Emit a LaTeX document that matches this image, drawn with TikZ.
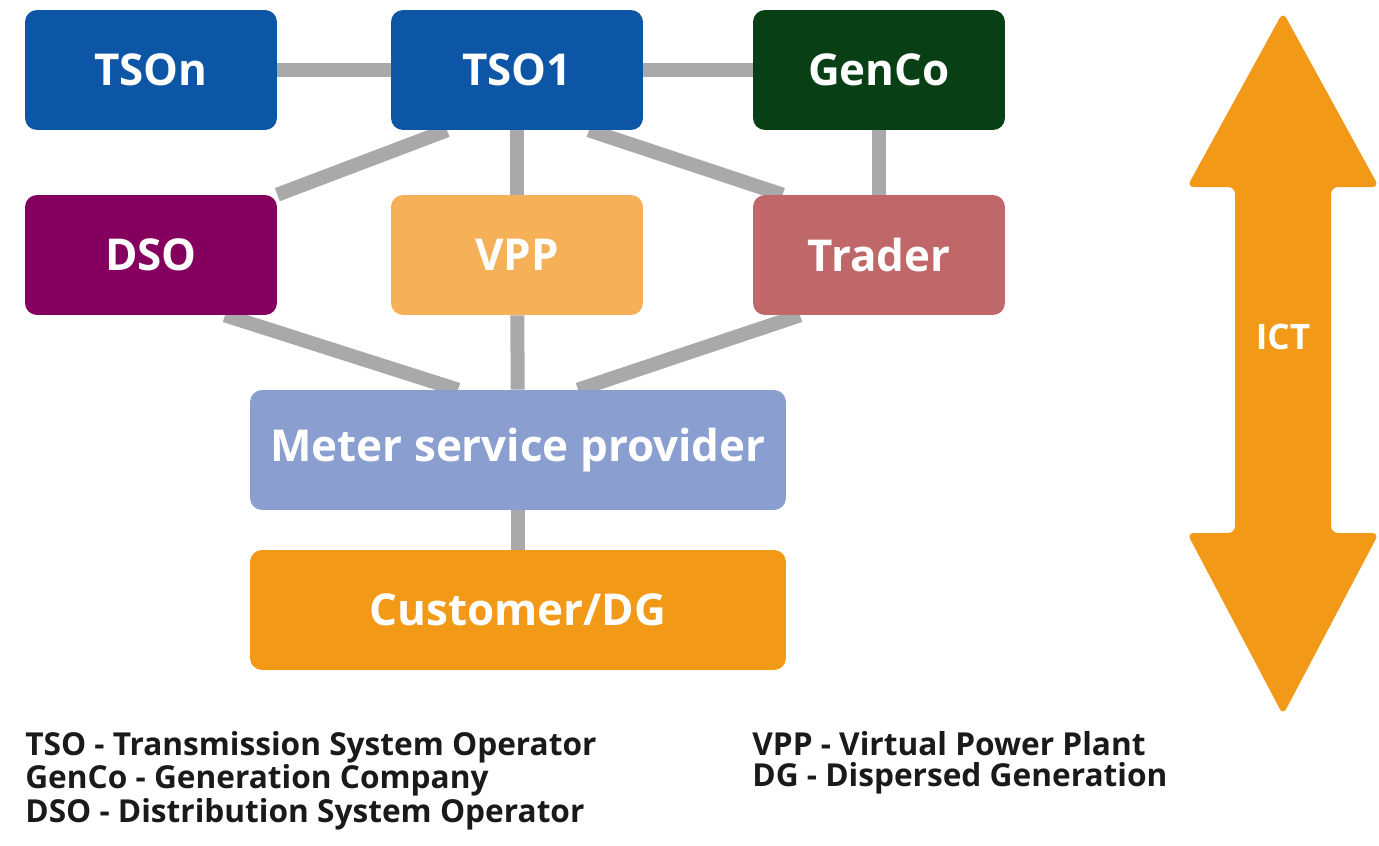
\documentclass[tikz,border=0pt]{standalone}
\usepackage{fontspec}
\setmainfont{Open Sans}
\usepackage{xcolor}
\usetikzlibrary{backgrounds}
\definecolor{tsoblue}{HTML}{0D55A5}
\definecolor{gencogreen}{HTML}{083F15}
\definecolor{dsopurple}{HTML}{85005E}
\definecolor{vpporange}{HTML}{F5B058}
\definecolor{traderred}{HTML}{C0676A}
\definecolor{meterblue}{HTML}{8A9FD0}
\definecolor{ictorange}{HTML}{F29A17}
\definecolor{linkgray}{HTML}{A9A9A9}
\definecolor{legendtext}{HTML}{1A1A1A}
\tikzset{
  role box/.style={rectangle,rounded corners=0.24cm,minimum width=5.04cm,minimum height=2.4cm,text=white,font=\fontsize{25}{28}\selectfont\bfseries},
  wide box/.style={role box,minimum width=10.72cm},
  link/.style={draw=linkgray,line width=0.28cm},
  legend/.style={anchor=north west,inner sep=0pt,align=left,text=legendtext,font=\fontsize{18}{17.6}\selectfont\bfseries}
}

\begin{document}
\begin{tikzpicture}[x=0.02cm,y=-0.02cm]
  \useasboundingbox (0,0) rectangle (1379,845);
  % market roles
  \node [role box,fill=tsoblue] (tson) at (151,70) {TSOn};
  \node [role box,fill=tsoblue] (tso1) at (517,70) {TSO1};
  \node [role box,fill=gencogreen] (genco) at (879,70) {GenCo};
  \node [role box,fill=dsopurple] (dso) at (151,255) {DSO};
  \node [role box,fill=vpporange] (vpp) at (517,255) {VPP};
  \node [role box,fill=traderred] (trader) at (879,255) {Trader};
  \node [wide box,fill=meterblue] (meter) at (518,450) {Meter service provider};
  \node [wide box,fill=ictorange] (customer) at (518,610) {Customer/DG};
  \begin{scope}[on background layer]
    \fill[white] (0,0) rectangle (1379,845);
    \draw[link] (tson) -- (tso1);
    \draw[link] (tso1) -- (genco);
    \draw[link] ([xshift=-1.4cm]tso1.south) -- (dso.north east);
    \draw[link] (tso1) -- (vpp);
    \draw[link] ([xshift=1.44cm]tso1.south) -- ([xshift=0.6cm]trader.north west);
    \draw[link] (genco) -- (trader);
    \draw[link] ([xshift=1.48cm]dso.south) -- ([xshift=-1.2cm]meter.north);
    \draw[link] (vpp) -- (meter);
    \draw[link] ([xshift=-1.58cm]trader.south) -- ([xshift=1.2cm]meter.north);
    \draw[link] (meter) -- (customer);
  \end{scope}
  % ICT arrow
  \fill[ictorange,rounded corners=0.14cm] (1283,12) -- (1379,187) -- (1331,187) -- (1331,533)
    -- (1379,533) -- (1283,715) -- (1187,533) -- (1235,533) -- (1235,187) -- (1187,187) -- cycle;
  \node [text=white,font=\fontsize{20}{24}\selectfont\bfseries] (ict) at (1283,337) {ICT};
  % legend
  \node [legend] (abbrevs) at (25,731) {TSO - Transmission System Operator\\
    GenCo - Generation Company\\DSO - Distribution System Operator};
  \node [legend] (abbrevs2) at (752,731) {VPP - Virtual Power Plant\\DG - Dispersed Generation};
\end{tikzpicture}
\end{document}
